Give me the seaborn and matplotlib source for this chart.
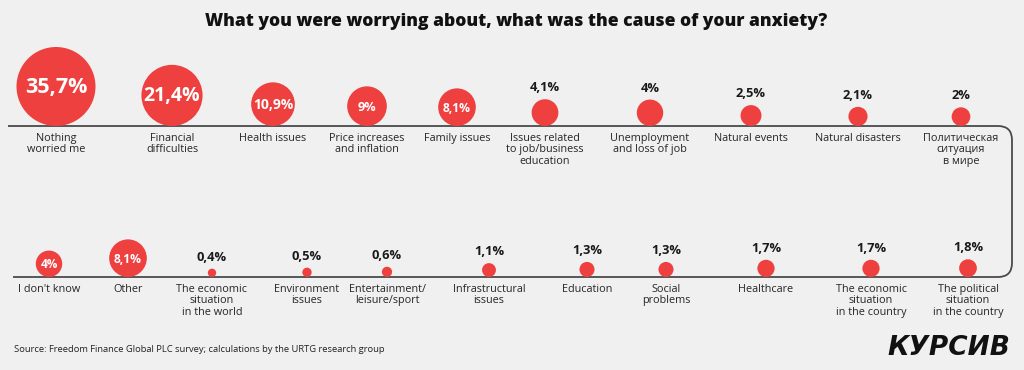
import seaborn as sns
import pandas as pd
from matplotlib import pyplot as plt
from matplotlib.path import Path
from matplotlib.patches import PathPatch

# data
top_labels = ["Nothing\nworried me", "Financial\ndifficulties", "Health issues",
              "Price increases\nand inflation", "Family issues",
              "Issues related\nto job/business\neducation", "Unemployment\nand loss of job",
              "Natural events", "Natural disasters", "Политическая\nситуация\nв мире"]
top_values = [35.7, 21.4, 10.9, 9, 8.1, 4.1, 4, 2.5, 2.1, 2]

bottom_labels = ["I don't know", "Other", "The economic\nsituation\nin the world",
                 "Environment\nissues", "Entertainment/\nleisure/sport",
                 "Infrastructural\nissues", "Education", "Social\nproblems", "Healthcare",
                 "The economic\nsituation\nin the country", "The political\nsituation\nin the country"]
bottom_values = [4, 8.1, 0.4, 0.5, 0.6, 1.1, 1.3, 1.3, 1.7, 1.7, 1.8]

# layout (figure pixels)
top_x = [56, 172, 273, 367, 457, 545, 650, 751, 858, 961]
bottom_x = [49, 128, 212, 307, 387, 489, 587, 666, 766, 871, 968]
top_inside = [True] * 5 + [False] * 5
bottom_inside = [True, True] + [False] * 9
TOP_Y, BOTTOM_Y = 126, 277
R_MAX = 39.5
RED = "#ef4040"
BG = "#f0f0f0"
LINE = "#4a4a4a"

sns.set_theme(style="white")
plt.rcParams['font.family'] = ['Open Sans', 'DejaVu Sans']

rows = []
for labels, values, xs, inside, base in [(top_labels, top_values, top_x, top_inside, TOP_Y),
                                         (bottom_labels, bottom_values, bottom_x, bottom_inside, BOTTOM_Y)]:
    for lab, v, x, ins in zip(labels, values, xs, inside):
        r = R_MAX * (v / max(top_values)) ** 0.5
        rows.append({"label": lab, "value": v, "x": x, "base": base, "r": r, "y": base - r, "inside": ins})
df = pd.DataFrame(rows)

fig = plt.figure(figsize=(10.24, 3.7), dpi=100, facecolor=BG)
ax = fig.add_axes([0, 0, 1, 1])
ax.set_facecolor(BG)

# connector line
verts = [(8, TOP_Y), (998, TOP_Y), (1012, TOP_Y), (1012, TOP_Y + 14),
         (1012, BOTTOM_Y - 14), (1012, BOTTOM_Y), (998, BOTTOM_Y), (13, BOTTOM_Y)]
codes = [Path.MOVETO, Path.LINETO, Path.CURVE3, Path.CURVE3,
         Path.LINETO, Path.CURVE3, Path.CURVE3, Path.LINETO]
ax.add_patch(PathPatch(Path(verts, codes), fill=False, edgecolor=LINE, lw=1.3, zorder=1))

smax = (2 * R_MAX * 0.72) ** 2
sns.scatterplot(data=df, x="x", y="y", size="value", sizes=(0, smax),
                size_norm=(0, max(top_values)), color=RED, linewidth=0,
                legend=False, ax=ax, zorder=2)
ax.set_xlim(0, 1024)
ax.set_ylim(370, 0)
ax.axis('off')

for _, row in df.iterrows():
    txt = f"{row.value:g}".replace('.', ',') + '%'
    if row.inside:
        fs = min(15.5, max(8.5, row.r * 0.46))
        ax.text(row.x, row.y + 1, txt, ha='center', va='center', color='white',
                fontsize=fs, fontweight='bold', zorder=3)
    else:
        ax.text(row.x, row.y - row.r - 5, txt, ha='center', va='bottom', color='#1a1a1a',
                fontsize=9.3, fontweight='bold', zorder=3)
    ax.text(row.x, row.base + 7, row.label, ha='center', va='top', color='#262626',
            fontsize=7.8, linespacing=1.05)

ax.text(516, 22, "What you were worrying about, what was the cause of your anxiety?",
        ha='center', va='center', fontsize=12.6, fontweight='heavy', color='#111111')
ax.text(14, 350, "Source: Freedom Finance Global PLC survey; calculations by the URTG research group",
        ha='left', va='center', fontsize=6.75, color='#222222')
ax.text(1010, 348, "КУРСИВ", ha='right', va='center', fontsize=19, fontweight='heavy',
        fontstyle='italic', color='#111111', family=['DejaVu Sans'])

plt.savefig("out.png", dpi=100, facecolor=BG)
